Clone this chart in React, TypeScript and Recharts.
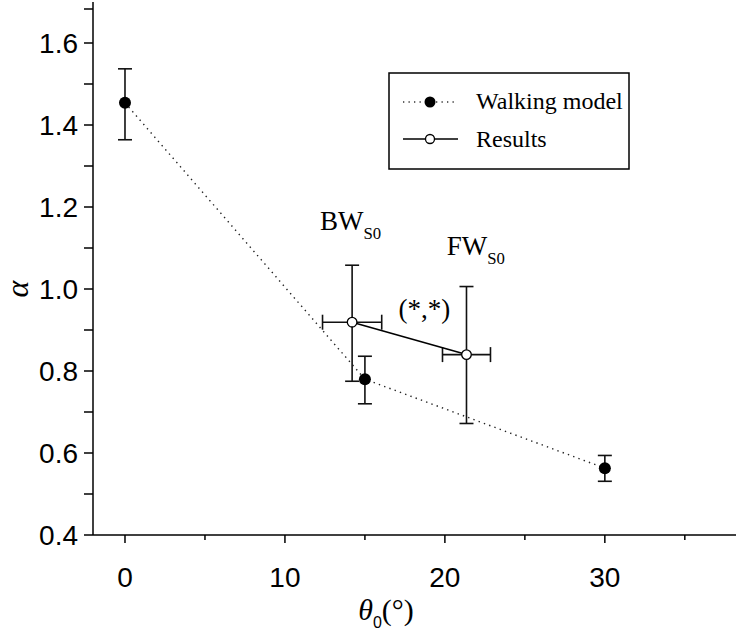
import React from 'react';
import { ScatterChart, Scatter, XAxis, YAxis, ErrorBar, ReferenceDot, Legend } from 'recharts';

// Walking model: theta0 (deg) vs alpha
const modelTheta = [0, 15, 30];
const modelAlpha = [1.454, 0.78, 0.563];
const modelErrLow = [0.09, 0.06, 0.032];
const modelErrHigh = [0.083, 0.056, 0.031];

// Results: BW_S0 and FW_S0
const resultTheta = [14.2, 21.35];
const resultAlpha = [0.919, 0.84];
const resultThetaErr = [1.85, 1.5];
const resultErrLow = [0.144, 0.168];
const resultErrHigh = [0.139, 0.166];

const seriesNames = ['Walking model', 'Results'];

const xTicks = [0, 5, 10, 15, 20, 25, 30, 35];
const xLabels = ['0', '10', '20', '30'];
const yTicks = [0.4, 0.5, 0.6, 0.7, 0.8, 0.9, 1.0, 1.1, 1.2, 1.3, 1.4, 1.5, 1.6, 1.7];
const yLabels = ['0.4', '0.6', '0.8', '1.0', '1.2', '1.4', '1.6'];

const modelData = modelTheta.map((x, i) => ({
  x,
  y: modelAlpha[i],
  yErr: [modelErrLow[i], modelErrHigh[i]],
}));

const resultData = resultTheta.map((x, i) => ({
  x,
  y: resultAlpha[i],
  xErr: resultThetaErr[i],
  yErr: [resultErrLow[i], resultErrHigh[i]],
}));

const SANS = "'Liberation Sans', Arial, sans-serif";
const SERIF = "'Liberation Serif', 'Times New Roman', serif";

const YTick = (props: any) => {
  const { x, y, payload } = props;
  const label = yLabels.find((l) => Math.abs(parseFloat(l) - payload.value) < 1e-6);
  return (
    <g>
      <line x1={x} y1={y} x2={x - 9} y2={y} stroke="#000" strokeWidth={1.5} />
      {label && (
        <text x={x - 15} y={y} dy="0.36em" textAnchor="end" fontSize={28} fontFamily={SANS} fill="#000">
          {label}
        </text>
      )}
    </g>
  );
};

const XTick = (props: any) => {
  const { x, y, payload } = props;
  const label = xLabels.find((l) => parseFloat(l) === payload.value);
  return (
    <g>
      <line x1={x} y1={y} x2={x} y2={y + (label ? 8 : 5)} stroke="#000" strokeWidth={1.5} />
      {label && (
        <text x={x} y={y + 52} textAnchor="middle" fontSize={28} fontFamily={SANS} fill="#000">
          {label}
        </text>
      )}
    </g>
  );
};

const Note = ({ viewBox, main, sub, size }: any) => (
  <text x={viewBox.x} y={viewBox.y} fontFamily={SERIF} fontSize={size} fill="#000">
    {main}
    {sub && (
      <tspan fontSize={size * 0.62} dy={size * 0.34}>
        {sub}
      </tspan>
    )}
  </text>
);

const ModelDot = (props: any) => <circle cx={props.cx} cy={props.cy} r={6} fill="#000" />;
const ResultDot = (props: any) => (
  <circle cx={props.cx} cy={props.cy} r={4.8} fill="#fff" stroke="#000" strokeWidth={1.3} />
);

const LegendBox = () => (
  <svg width={244} height={100} style={{ display: 'block' }}>
    <rect x={1} y={1} width={240} height={96} fill="#fff" stroke="#000" strokeWidth={1.5} />
    <line x1={15} y1={30} x2={70} y2={30} stroke="#333" strokeWidth={1.3} strokeDasharray="1.3 4.2" />
    <circle cx={42} cy={30} r={5.5} fill="#000" />
    <text x={88} y={37} fontFamily={SERIF} fontSize={24} fill="#000">{seriesNames[0]}</text>
    <line x1={15} y1={67} x2={70} y2={67} stroke="#000" strokeWidth={1.3} />
    <circle cx={42} cy={67} r={4.5} fill="#fff" stroke="#000" strokeWidth={1.3} />
    <text x={88} y={75} fontFamily={SERIF} fontSize={24} fill="#000">{seriesNames[1]}</text>
  </svg>
);

export default function App() {
  return (
    <div style={{ position: 'absolute', left: 0, top: 0, background: '#fff' }}>
      <ScatterChart width={736} height={630} margin={{ top: 2, right: 0, bottom: 0, left: 0 }}>
        <XAxis
          type="number"
          dataKey="x"
          domain={[-2, 38.2]}
          ticks={xTicks}
          allowDataOverflow
          height={95}
          tickSize={0}
          tickMargin={0}
          tickLine={false}
          axisLine={{ stroke: '#000', strokeWidth: 1.5 }}
          tick={<XTick />}
          label={{
            content: () => (
              <text x={386} y={620} textAnchor="middle" fontFamily={SERIF} fontSize={30} fill="#000">
                <tspan fontStyle="italic" fontFamily={SERIF}>θ</tspan>
                <tspan fontFamily={SANS} fontSize={16} dy={8}>0</tspan>
                <tspan fontFamily={SERIF} dy={-8}>(°)</tspan>
              </text>
            ),
          }}
        />
        <YAxis
          type="number"
          dataKey="y"
          domain={[0.4, 1.7]}
          ticks={yTicks}
          allowDataOverflow
          width={93}
          tickSize={0}
          tickMargin={0}
          tickLine={false}
          axisLine={{ stroke: '#000', strokeWidth: 1.5 }}
          tick={<YTick />}
          label={{
            content: () => (
              <text
                x={0}
                y={0}
                transform="translate(28 289) rotate(-90)"
                textAnchor="middle"
                fontFamily={SERIF}
                fontStyle="italic"
                fontSize={32}
                fill="#000"
              >
                α
              </text>
            ),
          }}
        />
        <Legend
          layout="horizontal"
          verticalAlign="middle"
          align="center"
          wrapperStyle={{ left: 388, top: 72, width: 244, height: 100 }}
          content={() => <LegendBox />}
        />
        <Scatter
          name={seriesNames[0]}
          data={modelData}
          shape={<ModelDot />}
          line={{ stroke: '#222', strokeWidth: 1.4, strokeDasharray: '1.4 4.2' }}
          lineJointType="linear"
          isAnimationActive={false}
        >
          <ErrorBar dataKey="yErr" direction="y" width={7} stroke="#111" strokeWidth={1.6} />
        </Scatter>
        <Scatter
          name={seriesNames[1]}
          data={resultData}
          shape={<ResultDot />}
          line={{ stroke: '#000', strokeWidth: 1.6 }}
          lineJointType="linear"
          isAnimationActive={false}
        >
          <ErrorBar dataKey="yErr" direction="y" width={7} stroke="#111" strokeWidth={1.6} />
          <ErrorBar dataKey="xErr" direction="x" width={7.5} stroke="#111" strokeWidth={1.6} />
        </Scatter>
        <ReferenceDot x={12.19} y={1.144} r={0} fill="none" stroke="none"
          label={(p: any) => <Note viewBox={p.viewBox} main="BW" sub="S0" size={27} />} />
        <ReferenceDot x={20.12} y={1.083} r={0} fill="none" stroke="none"
          label={(p: any) => <Note viewBox={p.viewBox} main="FW" sub="S0" size={27} />} />
        <ReferenceDot x={17.1} y={0.93} r={0} fill="none" stroke="none"
          label={(p: any) => <Note viewBox={p.viewBox} main="(*,*)" size={27} />} />
      </ScatterChart>
    </div>
  );
}
